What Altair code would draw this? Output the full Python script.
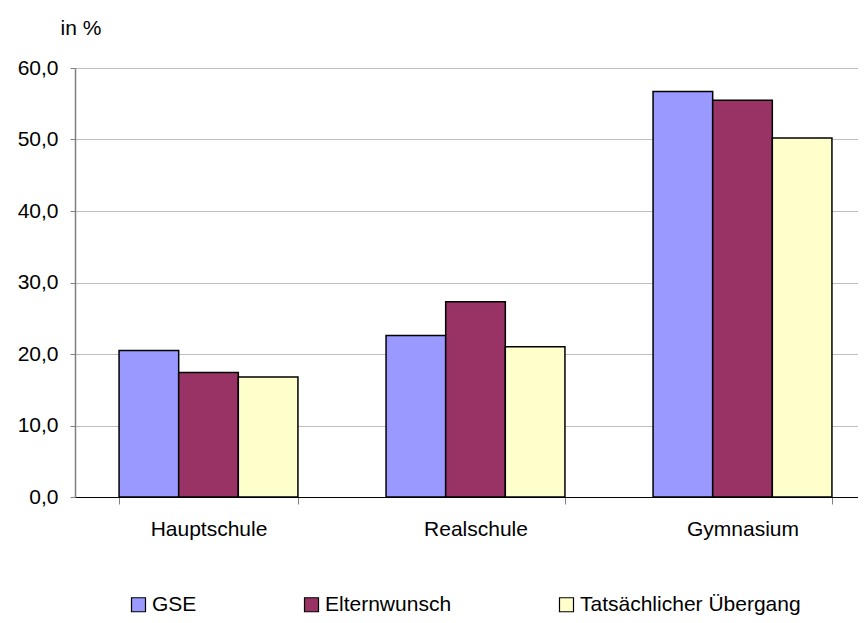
import altair as alt
import pandas as pd

categories = ["Hauptschule", "Realschule", "Gymnasium"]
series = ["GSE", "Elternwunsch", "Tatsächlicher Übergang"]
gse = [20.5, 22.6, 56.7]
elternwunsch = [17.4, 27.3, 55.5]
tatsaechlich = [16.8, 21.0, 50.2]
colors = ["#9999FF", "#993366", "#FFFFCC"]
y_ticks = [0, 10, 20, 30, 40, 50, 60]

rows = []
for i, c in enumerate(categories):
    for s, vals in zip(series, [gse, elternwunsch, tatsaechlich]):
        rows.append({"Schulart": c, "Serie": s, "Wert": vals[i]})
df = pd.DataFrame(rows)

FONT = "Liberation Sans"
FS = 21

chart = alt.Chart(df).mark_bar(stroke="black", strokeWidth=1.5).encode(
    x=alt.X("Schulart:N", sort=categories,
            scale=alt.Scale(range=[0, 801], paddingInner=0.33, paddingOuter=0.165),
            axis=alt.Axis(title=None, tickBand="extent", labelAngle=0,
                          tickSize=7, tickColor="#808080", domainColor="black",
                          labelPadding=14, labelFontSize=FS, labelFont=FONT,
                          labelColor="black", grid=False)),
    xOffset=alt.XOffset("Serie:N", sort=series),
    y=alt.Y("Wert:Q", scale=alt.Scale(domain=[0, 60], nice=False),
            axis=alt.Axis(values=y_ticks,
                          labelExpr="replace(format(datum.value, '.1f'), '.', ',')",
                          title="in %", titleAngle=0, titleX=-15, titleY=-34,
                          titleAlign="left", titleBaseline="alphabetic",
                          titleFontSize=FS, titleFont=FONT, titleFontWeight="normal",
                          titleColor="black",
                          tickSize=5, tickColor="#808080", domainColor="#808080",
                          domainWidth=1.5,
                          gridColor="#BFBFBF", labelPadding=12, labelFontSize=FS,
                          labelFont=FONT, labelColor="black")),
    color=alt.Color("Serie:N", sort=series,
                    scale=alt.Scale(domain=series, range=colors),
                    legend=alt.Legend(title=None, orient="none", legendX=53, legendY=526,
                                      direction="horizontal", symbolType="square",
                                      symbolSize=196, symbolStrokeColor="black",
                                      symbolStrokeWidth=1.2, labelFontSize=FS,
                                      labelFont=FONT, labelColor="black", labelLimit=400,
                                      labelOffset=3, columnPadding=104)),
).properties(
    width=783, height=429,
    autosize=alt.AutoSizeParams(type="none"),
    padding={"left": 67, "top": 60, "right": 0, "bottom": 123},
).configure_view(stroke=None)

chart.save("out.html", embed_options={"renderer": "svg", "actions": False})
